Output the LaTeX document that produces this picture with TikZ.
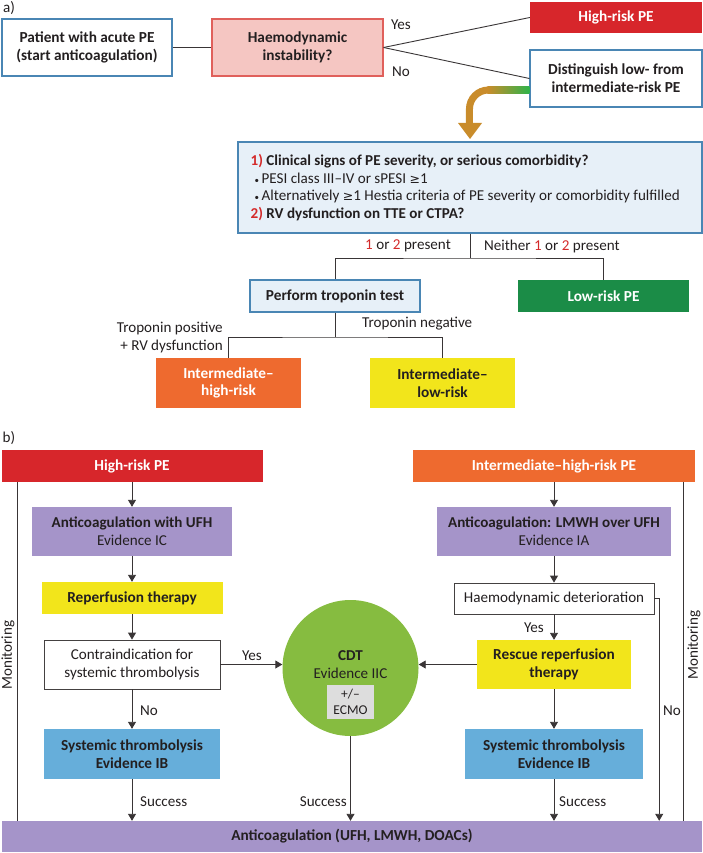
\documentclass[tikz,border=0pt]{standalone}
\usepackage{fontspec}
\setmainfont{Carlito}
\newfontfamily\symfont{DejaVu Sans}
\usetikzlibrary{arrows.meta,positioning,shapes}

\definecolor{ink}{HTML}{231F20}
\definecolor{hired}{HTML}{D7262B}
\definecolor{ihorange}{HTML}{EE6A2F}
\definecolor{ilyellow}{HTML}{F2E51B}
\definecolor{lrgreen}{HTML}{1B8C47}
\definecolor{frameblue}{HTML}{4A86B4}
\definecolor{paleblue}{HTML}{E7F0F8}
\definecolor{pinkfill}{HTML}{F5C6C2}
\definecolor{pinkline}{HTML}{E0605B}
\definecolor{acpurple}{HTML}{A594C9}
\definecolor{thrblue}{HTML}{66AEDA}
\definecolor{cdtgreen}{HTML}{86BC40}
\definecolor{ecmogrey}{HTML}{DDDDDD}
\definecolor{critred}{HTML}{D42A2A}
\definecolor{arrowgreen}{HTML}{2EB34A}
\definecolor{arrowbrown}{HTML}{C98C2B}

\begin{document}
\begin{tikzpicture}[x=1pt,y=-1pt,
  every node/.style={font=\fontsize{15.1}{17.7}\selectfont,text=ink,inner sep=0pt,align=center},
  bf/.style={font=\fontsize{15.3}{17.7}\selectfont\bfseries},
  blueframe/.style={draw=frameblue,line width=1.1pt,fill=white},
  paleframe/.style={draw=frameblue,line width=1.1pt,fill=paleblue},
  greyframe/.style={draw=ink!85,line width=0.8pt,fill=white},
  flat/.style={fill=#1},
  link/.style={draw=ink!90,line width=0.9pt},
  arr/.style={link,-{Triangle[length=7pt,width=8pt]}},
]
\useasboundingbox (0,0) rectangle (703,853);

% a)
\node (tagA) at (9,8) {a)};
\node[blueframe,bf,minimum width=170pt,minimum height=57pt] (pat) at (87,47.5) {Patient with acute PE\\(start anticoagulation)};
\node[draw=pinkline,line width=1.1pt,fill=pinkfill,bf,minimum width=171pt,minimum height=57pt] (haem) at (297.5,47.5) {Haemodynamic\\instability?};
\node[flat=hired,bf,text=white,minimum width=172pt,minimum height=31pt] (hr) at (616,17.5) {High-risk PE};
\node[blueframe,bf,minimum width=172pt,minimum height=57pt] (dist) at (616,78.5) {Distinguish low- from\\intermediate-risk PE};
\node (yes1) at (401,25) {Yes};
\node (no1) at (401,72) {No};
\draw[link] (pat) -- (haem);
\draw[link] (haem.east) -- (hr.west);
\draw[link] (haem.east) -- (dist.west);

% coloured bend down to the criteria
\coordinate (g0) at ([yshift=-11.5pt]dist.west);
\shade[left color=arrowbrown,right color=arrowgreen] ([yshift=3.5pt]g0) rectangle ([xshift=-42pt,yshift=-3.5pt]g0);
\draw[arrowbrown,line width=7pt] ([xshift=-41pt]g0) arc[start angle=270,end angle=180,radius=19] -- ++(0,15);
\fill[arrowbrown] (458,123) -- (482,123) -- (470,139) -- cycle;

\node[paleframe,minimum width=464pt,minimum height=91pt] (crit) at (470,187.5) {};
\node[anchor=west,align=left] (critt) at ([xshift=13pt]crit.west) {%
\textbf{\color{critred}1)} \textbf{Clinical signs of PE severity, or serious comorbidity?}\\
\hspace*{4pt}{\small\textbullet}\,PESI class III–IV or sPESI {\symfont\fontsize{12.5}{14}\selectfont≥}1\\
\hspace*{4pt}{\small\textbullet}\,Alternatively {\symfont\fontsize{12.5}{14}\selectfont≥}1 Hestia criteria of PE severity or comorbidity fulfilled\\
\textbf{\color{critred}2)} \textbf{RV dysfunction on TTE or CTPA?}};

\node[anchor=east] (pres) at (451,246) {{\color{critred}1} or {\color{critred}2} present};
\node[anchor=west] (neit) at (484,246) {Neither {\color{critred}1} or {\color{critred}2} present};
\node[paleframe,bf,minimum width=170pt,minimum height=32pt] (trop) at (335,296) {Perform troponin test};
\node[flat=lrgreen,bf,text=white,minimum width=171pt,minimum height=32pt] (lowr) at (603.5,296) {Low-risk PE};
\coordinate (j1) at (470,258);
\draw[link] (crit.south) -- (j1);
\draw[link] (trop.north) |- (j1) -| (lowr.north);

\node[anchor=east,align=right] (tpos) at (223,337.5) {Troponin positive\\+ RV dysfunction};
\node[anchor=west] (tneg) at (362,324) {Troponin negative};
\node[flat=ihorange,bf,text=white,minimum width=145pt,minimum height=50pt] (ihr) at (228.5,383) {Intermediate–\\high-risk};
\node[flat=ilyellow,bf,minimum width=145pt,minimum height=50pt] (ilr) at (442.5,383) {Intermediate–\\low-risk};
\coordinate (j2) at (335,337);
\draw[link] (trop.south) -- (j2);
\draw[link] (ihr.north) |- (j2) -| (ilr.north);

% b)
\node (tagB) at (9,438) {b)};
\node[flat=hired,bf,text=white,minimum width=261pt,minimum height=32pt] (hrb) at (132,466) {High-risk PE};
\node[flat=ihorange,bf,text=white,minimum width=282pt,minimum height=32pt] (ihrb) at (554,466) {Intermediate–high-risk PE};

% left column
\node[flat=acpurple,minimum width=200pt,minimum height=49pt] (ac1) at (132,531.5) {\textbf{Anticoagulation with UFH}\\Evidence IC};
\node[flat=ilyellow,bf,minimum width=181pt,minimum height=32pt] (rep) at (132,598) {Reperfusion therapy};
\node[greyframe,minimum width=176pt,minimum height=49pt] (contra) at (132,664.5) {Contraindication for\\systemic thrombolysis};
\node[flat=thrblue,bf,minimum width=176pt,minimum height=50pt] (sys1) at (132,754) {Systemic thrombolysis\\Evidence IB};

% centre
\node[circle,flat=cdtgreen,minimum size=136pt] (cdt) at (350.5,668) {};
\node (cdtl) at (350.5,664.5) {\textbf{CDT}\\Evidence IIC};
\node[flat=ecmogrey,minimum width=47pt,minimum height=34pt,font=\fontsize{13.5}{16}\selectfont] (ecmo) at (350.5,702) {+/–\\ECMO};

% right column
\node[flat=acpurple,minimum width=234pt,minimum height=49pt] (ac2) at (554,531.5) {\textbf{Anticoagulation: LMWH over UFH}\\Evidence IA};
\node[greyframe,minimum width=200pt,minimum height=31pt] (hd) at (554,598.5) {Haemodynamic deterioration};
\node[flat=ilyellow,bf,minimum width=154pt,minimum height=49pt] (rrt) at (554,664.5) {Rescue reperfusion\\therapy};
\node[flat=thrblue,bf,minimum width=178pt,minimum height=50pt] (sys2) at (554,754) {Systemic thrombolysis\\Evidence IB};

\node[flat=acpurple,bf,minimum width=700pt,minimum height=31pt] (bar) at (352,836.5) {Anticoagulation (UFH, LMWH, DOACs)};

% labels
\node[rotate=90] (mon1) at (8,655) {Monitoring};
\node[rotate=90] (mon2) at (694,645) {Monitoring};
\node (yes2) at (252,656) {Yes};
\node[anchor=west] (no2) at (140,711) {No};
\node[anchor=west] (suc1) at (140,802) {Success};
\node[anchor=east] (suc2) at (347,802) {Success};
\node[anchor=west] (suc3) at (559,802) {Success};
\node[anchor=east] (yes3) at (544,628) {Yes};
\node[anchor=west] (no3) at (663,711) {No};

% connectors
\draw[arr] (hrb) -- (ac1);
\draw[arr] (ac1) -- (rep);
\draw[arr] (rep) -- (contra);
\draw[arr] (contra) -- (sys1);
\draw[arr] (contra.east) -- (contra.east -| cdt.west);
\draw[arr] (sys1.south) -- (sys1.south |- bar.north);
\draw[arr] (cdt.south) -- (cdt.south |- bar.north);
\draw[arr] (ihrb) -- (ac2);
\draw[arr] (ac2) -- (hd);
\draw[arr] (hd) -- (rrt);
\draw[arr] (rrt) -- (sys2);
\draw[arr] (rrt.west) -- (rrt.west -| cdt.east);
\draw[arr] (sys2.south) -- (sys2.south |- bar.north);
\draw[arr] (hd.east) -| ([xshift=-43pt]bar.north east);
\draw[link] ([xshift=16pt]hrb.south west) -- ([xshift=16pt]hrb.south west |- bar.north);
\draw[link] ([xshift=-12pt]ihrb.south east) -- ([xshift=-12pt]ihrb.south east |- bar.north);
\end{tikzpicture}
\end{document}
